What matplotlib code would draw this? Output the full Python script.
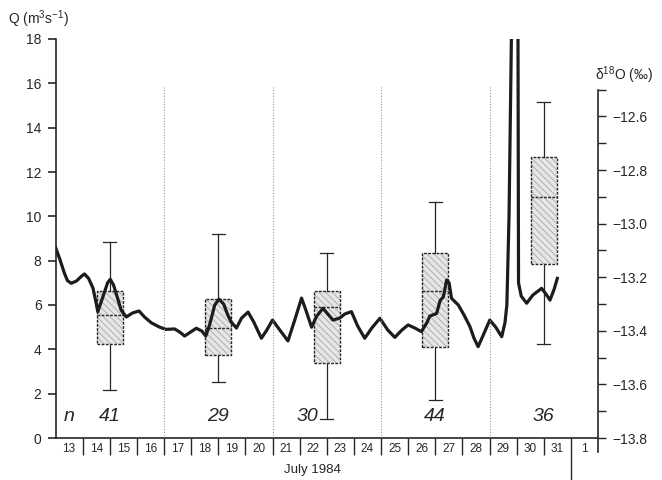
import numpy as np
import matplotlib.pyplot as plt

# ---- data ----
# discharge Q (m3/s), time as July day (13.0 = 13 July 00h)
q_day = [13.0, 13.15, 13.33, 13.44, 13.58, 13.77, 13.96, 14.07, 14.22, 14.38, 14.48,
         14.56, 14.77, 14.92, 15.02, 15.14, 15.29, 15.42, 15.61, 15.84, 16.08, 16.28,
         16.54, 16.84, 17.08, 17.39, 17.58, 17.76, 17.98, 18.19, 18.39, 18.54, 18.68,
         18.87, 19.03, 19.2, 19.35, 19.48, 19.67, 19.86, 20.1, 20.31, 20.59, 20.79,
         21.0, 21.27, 21.57, 21.82, 22.07, 22.23, 22.44, 22.63, 22.86, 23.04, 23.23,
         23.48, 23.66, 23.91, 24.14, 24.4, 24.66, 24.96, 25.25, 25.51, 25.77, 26.0,
         26.25, 26.49, 26.69, 26.8, 27.05, 27.18, 27.3, 27.42, 27.51, 27.6, 27.85,
         28.06, 28.28, 28.43, 28.58, 28.79, 29.01, 29.23, 29.45, 29.57, 29.64, 29.72,
         29.81, 29.92, 30.05, 30.07, 30.17, 30.37, 30.6, 30.92, 31.08, 31.23, 31.38,
         31.5]
q_val = [8.6, 8.1, 7.43, 7.1, 6.98, 7.08, 7.3, 7.4, 7.2, 6.77, 6.2,
         5.7, 6.45, 7.0, 7.16, 6.9, 6.3, 5.77, 5.46, 5.64, 5.73, 5.46,
         5.19, 5.0, 4.9, 4.92, 4.78, 4.6, 4.78, 4.95, 4.83, 4.6, 5.1,
         6.0, 6.26, 6.04, 5.55, 5.23, 4.96, 5.41, 5.68, 5.23, 4.5, 4.87,
         5.32, 4.87, 4.38, 5.32, 6.31, 5.77, 5.0, 5.5, 5.85, 5.59, 5.32,
         5.41, 5.59, 5.7, 5.05, 4.5, 4.96, 5.4, 4.87, 4.54, 4.87, 5.1,
         4.96, 4.8, 5.2, 5.5, 5.62, 6.2, 6.37, 7.13, 7.0, 6.3, 6.0,
         5.55, 5.02, 4.5, 4.12, 4.7, 5.32, 5.0, 4.57, 5.2, 6.0, 10.0,
         18.3, 24.0, 18.3, 7.0, 6.4, 6.08, 6.45, 6.75, 6.5, 6.22, 6.7,
         7.2]

# d18O box plots, one per 4-day window
box_pos = [15, 19, 23, 27, 31]
box_n = [41, 29, 30, 44, 36]
n_shift = [0, 0, -0.7, 0, 0]
d18_whislo = [-13.62, -13.59, -13.73, -13.66, -13.45]
d18_q1 = [-13.45, -13.49, -13.52, -13.46, -13.15]
d18_med = [-13.34, -13.39, -13.31, -13.25, -12.90]
d18_q3 = [-13.25, -13.28, -13.25, -13.11, -12.75]
d18_whishi = [-13.07, -13.04, -13.11, -12.92, -12.545]

day_labels = [str(d) for d in range(13, 32)] + ["1"]
window_edges = [17, 21, 25, 29]

# ---- style ----
plt.rcParams['font.family'] = ['Liberation Sans', 'DejaVu Sans']
plt.rcParams['mathtext.fontset'] = 'custom'
plt.rcParams['mathtext.rm'] = 'Liberation Sans'
plt.rcParams['mathtext.it'] = 'Liberation Sans:italic'
plt.rcParams['hatch.linewidth'] = 0.6
ink = '#262626'

fig = plt.figure(figsize=(6.62, 4.8), dpi=100)
ax = fig.add_axes([55.5 / 662, 42 / 480, 542.5 / 662, 399 / 480])
ax2 = ax.twinx()
ax.set_zorder(ax2.get_zorder() + 1)
ax.patch.set_visible(False)

# boxes on the d18O axis
ax2.bar(box_pos, np.subtract(d18_q3, d18_q1), bottom=d18_q1, width=0.95,
        color='#e6e6e6', edgecolor='#a8a8a8', linewidth=0, hatch='\\\\\\\\\\')
stats = [dict(med=m, q1=a, q3=b, whislo=lo, whishi=hi, fliers=[])
         for m, a, b, lo, hi in zip(d18_med, d18_q1, d18_q3, d18_whislo, d18_whishi)]
dash = (0, (2, 1))
ax2.bxp(stats, positions=box_pos, widths=0.95, capwidths=0.48, showfliers=False,
        manage_ticks=False,
        boxprops=dict(color=ink, lw=1.0, ls=dash),
        medianprops=dict(color=ink, lw=1.0, ls=dash),
        whiskerprops=dict(color=ink, lw=0.9),
        capprops=dict(color=ink, lw=0.9))

ax2.set_ylim(-13.8, -13.8 + 399 / 268)
ax2.set_yticks(np.round(np.arange(-13.8, -12.55, 0.2), 1))
ax2.set_yticks(np.round(np.arange(-13.7, -12.45, 0.2), 1), minor=True)
ax2.tick_params(axis='y', which='both', direction='out', length=6, width=1,
                color=ink, labelsize=10, pad=4, labelcolor=ink)
for s in ['left', 'top', 'bottom']:
    ax2.spines[s].set_visible(False)
ax2.spines['right'].set_bounds(-13.852, -12.5)
ax2.spines['right'].set_color(ink)
ax2.spines['right'].set_linewidth(1.2)

# discharge line on the Q axis
ax.plot(q_day, q_val, color='#1c1c1c', lw=2.3, solid_joinstyle='round')
ax.vlines(window_edges, 0, 15.85, colors='#9a9a9a', linestyles=(0, (1, 1.5)), lw=0.8)

ax.text(13.3, 0.75, 'n', style='italic', fontsize=14, color=ink, va='baseline')
for p, n, dx in zip(box_pos, box_n, n_shift):
    ax.text(p + dx, 0.75, str(n), style='italic', fontsize=14, color=ink,
            ha='center', va='baseline')

ax.set_xlim(13, 33)
ax.set_ylim(0, 18)
ax.set_yticks(np.arange(0, 19, 2))
ax.tick_params(axis='y', direction='out', length=6, width=1.2, labelsize=10,
               pad=4, color=ink, labelcolor=ink)
ax.set_xticks(np.arange(14, 32))
ax.set_xticks(np.arange(13.5, 33), minor=True)
ax.set_xticklabels([])
ax.set_xticklabels(day_labels, minor=True)
ax.tick_params(axis='x', which='major', direction='out', length=12, width=1, color=ink)
ax.tick_params(axis='x', which='minor', length=0, labelsize=8.5, pad=3.5, labelcolor=ink)
ax.plot([32, 32], [0, -1.85], color=ink, lw=1, clip_on=False)

for s in ['top', 'right']:
    ax.spines[s].set_visible(False)
ax.spines['left'].set_bounds(0, 18)
for s in ['left', 'bottom']:
    ax.spines[s].set_color(ink)
    ax.spines[s].set_linewidth(1.2)

fig.text(8 / 662, 1 - 19 / 480, 'Q (m$^{3}$s$^{-1}$)', fontsize=10, color=ink, va='center')
fig.text(595 / 662, 1 - 75 / 480, '\u03b4$^{18}$O (\u2030)', fontsize=10, color=ink, va='center')
fig.text(312 / 662, 1 - 470 / 480, 'July 1984', fontsize=9.5, color=ink,
         ha='center', va='center')

fig.savefig('out.png', dpi=100)
